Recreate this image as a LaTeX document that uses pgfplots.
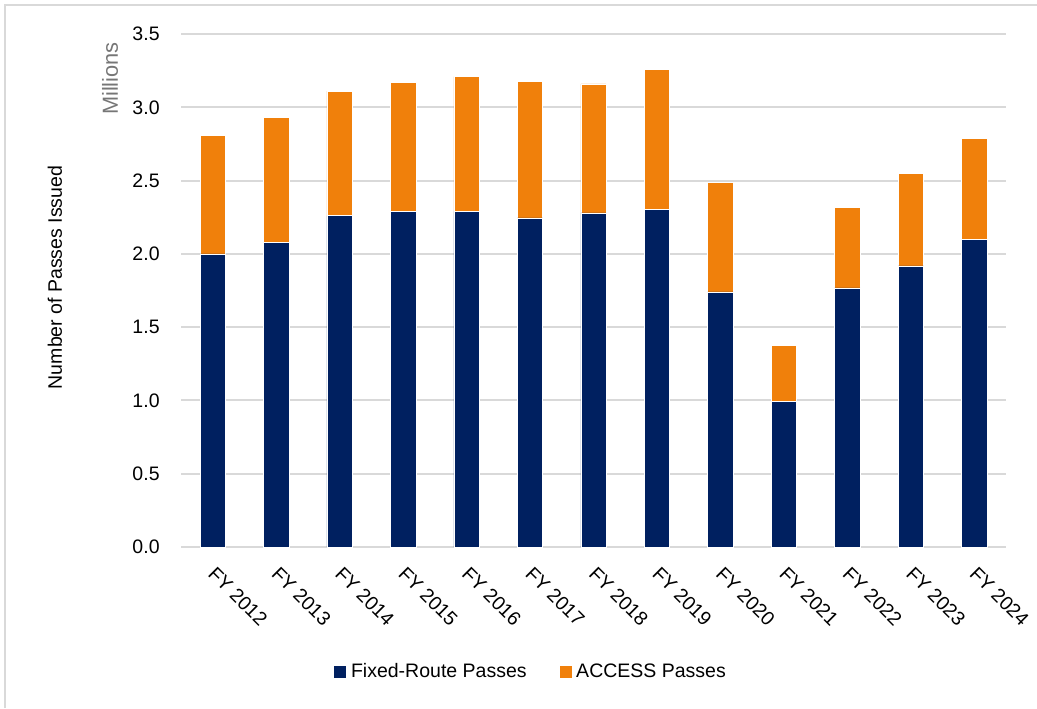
\documentclass[border=0pt]{standalone}
\usepackage{fontspec}
\setmainfont{Liberation Sans}
\usepackage{pgfplots}
\usepackage{pgfplotstable}
\pgfplotsset{compat=1.18}

\definecolor{navy}{RGB}{0,32,96}
\definecolor{passorange}{RGB}{240,128,11}
\definecolor{gridgray}{RGB}{217,217,217}
\definecolor{unitgray}{RGB}{118,118,118}

% Passes issued per fiscal year, in millions
\pgfplotstableread{
x fixed access
0  2.000 0.810
1  2.080 0.850
2  2.260 0.850
3  2.290 0.880
4  2.290 0.920
5  2.245 0.930
6  2.280 0.880
7  2.305 0.955
8  1.740 0.750
9  0.993 0.385
10 1.768 0.550
11 1.918 0.630
12 2.100 0.690
}\passes

\begin{document}
\begin{tikzpicture}[x=0.5pt,y=0.5pt]
\useasboundingbox (0,0) rectangle (1037,708);
% outer chart frame
\draw[gridgray, line width=1pt] (5,0) -- (5,703) -- (1037,703);

\begin{axis}[
  at={(90.5pt,80.5pt)}, anchor=south west,
  scale only axis,
  width=412.5pt, height=256.5pt,
  font=\fontsize{9.75pt}{12pt}\selectfont,
  ybar stacked,
  bar width=12.7pt,
  xmin=-0.5, xmax=12.5,
  ymin=0, ymax=3.5,
  ytick={0,0.5,...,3.5},
  xtick={0,...,12},
  xticklabels={FY 2012,FY 2013,FY 2014,FY 2015,FY 2016,FY 2017,FY 2018,FY 2019,FY 2020,FY 2021,FY 2022,FY 2023,FY 2024},
  major tick length=0pt,
  axis x line*=bottom, axis y line*=left,
  x axis line style={draw=gridgray, line width=1pt},
  y axis line style={draw=none},
  ymajorgrids,
  grid style={draw=gridgray, line width=1pt},
  /pgf/number format/.cd, fixed, fixed zerofill, precision=1, assume math mode=true,
  /pgfplots/.cd,
  yticklabel style={anchor=east, inner sep=0pt, xshift=-10.5pt},
  xticklabel style={xshift=2pt, yshift=-9pt, rotate=-45, anchor=north west, inner sep=0pt},
  legend columns=2,
  legend style={
    at={(0.425,-0.2437)}, anchor=center, draw=none, fill=none,
    font=\fontsize{9.75pt}{12pt}\selectfont,
    /tikz/every even column/.append style={column sep=14pt},
  },
  legend image code/.code={\fill[#1] (0pt,-3.25pt) rectangle (6.5pt,3.25pt);},
]
\addplot[fill=navy, draw=white, line width=0.3pt] table[x=x, y=fixed] {\passes};
\addlegendentry{Fixed-Route Passes}
\addplot[fill=passorange, draw=white, line width=0.3pt] table[x=x, y=access] {\passes};
\addlegendentry{ACCESS Passes}
\end{axis}

% axis titles
\node[rotate=90, text=unitgray, font=\fontsize{10.9pt}{13pt}\selectfont] at (110,629.5) {Millions};
\node[rotate=90, font=\fontsize{9.75pt}{12pt}\selectfont] at (55,430.5) {Number of Passes Issued};
\end{tikzpicture}
\end{document}
